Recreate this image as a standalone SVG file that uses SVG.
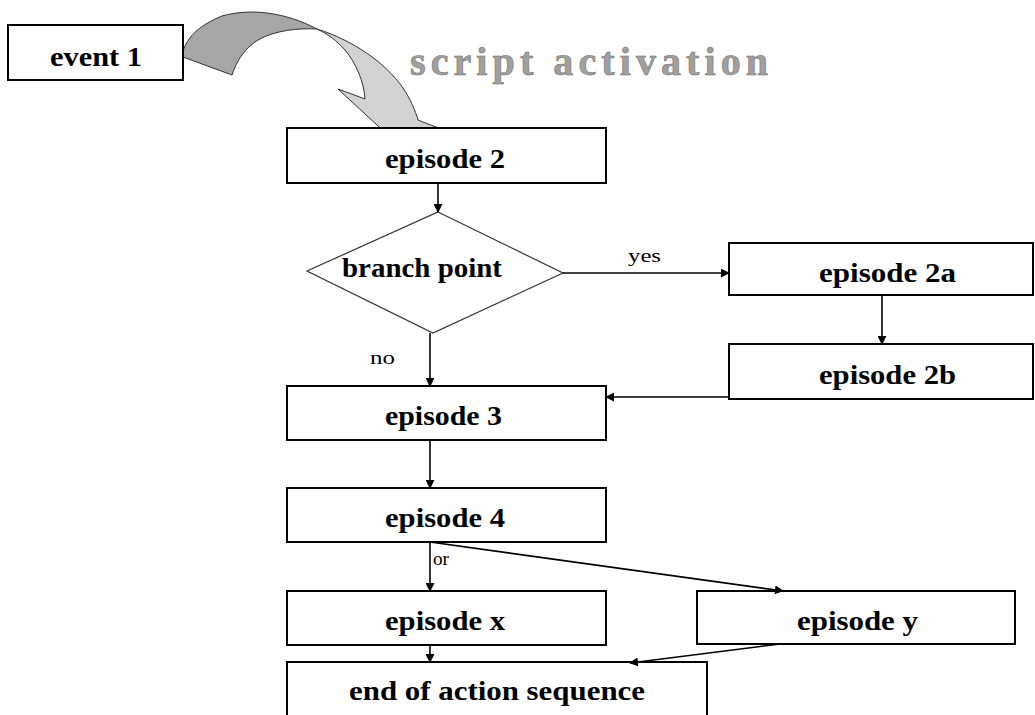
<svg xmlns="http://www.w3.org/2000/svg" width="1035" height="715" viewBox="0 0 1035 715">
<defs>
<style>
.box{fill:#fff;stroke:#000;stroke-width:2}
.dia{fill:#fff;stroke:#333;stroke-width:1.2}
.t{font-family:'Liberation Serif',serif;font-weight:bold;font-size:28px;fill:#000}
.lbl{font-family:'Liberation Serif',serif;font-size:19px;fill:#000}
.c{fill:none;stroke:#000;stroke-width:1.6;marker-end:url(#ah)}
</style>
<marker id="ah" viewBox="0 0 10 10" refX="9" refY="5" markerWidth="9" markerHeight="9" markerUnits="userSpaceOnUse" orient="auto">
<path d="M0,0 L10,5 L0,10 Z" fill="#000"/>
</marker>
</defs>
<rect width="1035" height="715" fill="#fff"/>

<g id="script-arrow">
<path d="M183,51 C188,36 200,25 222,16 C250,8 285,12 317,29 C300,28 275,30 258,40 C245,48 237,60 232,75 L183,57 Z" fill="#a6a6a6" stroke="#333" stroke-width="1"/>
<path d="M317,29 C352,40 385,62 403,88 C411,100 415,110 418,120 L441,129 L390,137 L338,89 L365,99 C364,82 356,63 345,50 C337,41 328,34 317,29 Z" fill="#d2d2d2" stroke="#333" stroke-width="1"/>
</g>
<text id="script-activation" x="410" y="75" font-family="Liberation Serif, serif" font-weight="bold" font-size="40" fill="#a0a0a0" stroke="#747474" stroke-width="0.6" textLength="358" lengthAdjust="spacing">script activation</text>

<g id="event1"><rect class="box" x="8" y="25" width="175" height="55"/><text class="t" font-family="Liberation Serif, serif" x="50" y="66" textLength="92" lengthAdjust="spacingAndGlyphs">event 1</text></g>
<g id="episode2"><rect class="box" x="287" y="128" width="319" height="55"/><text class="t" font-family="Liberation Serif, serif" x="385" y="168" textLength="120" lengthAdjust="spacingAndGlyphs">episode 2</text></g>
<g id="branch"><polygon class="dia" points="438,212 563,273 433,333 307,271"/><text class="t" font-family="Liberation Serif, serif" x="342" y="277" textLength="160" lengthAdjust="spacingAndGlyphs">branch point</text></g>
<g id="episode2a"><rect class="box" x="729" y="243" width="304" height="52"/><text class="t" font-family="Liberation Serif, serif" x="819" y="282" textLength="137" lengthAdjust="spacingAndGlyphs">episode 2a</text></g>
<g id="episode2b"><rect class="box" x="729" y="344" width="304" height="55"/><text class="t" font-family="Liberation Serif, serif" x="819" y="384" textLength="137" lengthAdjust="spacingAndGlyphs">episode 2b</text></g>
<g id="episode3"><rect class="box" x="287" y="386" width="319" height="54"/><text class="t" font-family="Liberation Serif, serif" x="385" y="425" textLength="117" lengthAdjust="spacingAndGlyphs">episode 3</text></g>
<g id="episode4"><rect class="box" x="287" y="488" width="319" height="54"/><text class="t" font-family="Liberation Serif, serif" x="385" y="527" textLength="120" lengthAdjust="spacingAndGlyphs">episode 4</text></g>
<g id="episodex"><rect class="box" x="287" y="591" width="319" height="54"/><text class="t" font-family="Liberation Serif, serif" x="385" y="630" textLength="120" lengthAdjust="spacingAndGlyphs">episode x</text></g>
<g id="episodey"><rect class="box" x="697" y="591" width="318" height="53"/><text class="t" font-family="Liberation Serif, serif" x="797" y="630" textLength="121" lengthAdjust="spacingAndGlyphs">episode y</text></g>
<g id="end"><rect class="box" x="287" y="662" width="420" height="70"/><text class="t" font-family="Liberation Serif, serif" x="349" y="700" textLength="296" lengthAdjust="spacingAndGlyphs">end of action sequence</text></g>

<g id="connectors">
<line class="c" x1="438" y1="183" x2="438" y2="212"/>
<line class="c" x1="563" y1="273" x2="729" y2="273"/>
<line class="c" x1="882" y1="295" x2="882" y2="344"/>
<line class="c" x1="729" y1="397" x2="606" y2="397"/>
<line class="c" x1="430" y1="333" x2="430" y2="386"/>
<line class="c" x1="430" y1="440" x2="430" y2="488"/>
<line class="c" x1="430" y1="542" x2="430" y2="591"/>
<line class="c" x1="430" y1="542" x2="783" y2="591"/>
<line class="c" x1="430" y1="645" x2="430" y2="662"/>
<line class="c" x1="780" y1="644" x2="630" y2="663"/>
<text class="lbl" font-family="Liberation Serif, serif" x="628" y="262" textLength="33" lengthAdjust="spacingAndGlyphs">yes</text>
<text class="lbl" font-family="Liberation Serif, serif" x="370" y="364" textLength="25" lengthAdjust="spacingAndGlyphs">no</text>
<text class="lbl" font-family="Liberation Serif, serif" x="433" y="565" textLength="16" lengthAdjust="spacingAndGlyphs">or</text>
</g>
</svg>
